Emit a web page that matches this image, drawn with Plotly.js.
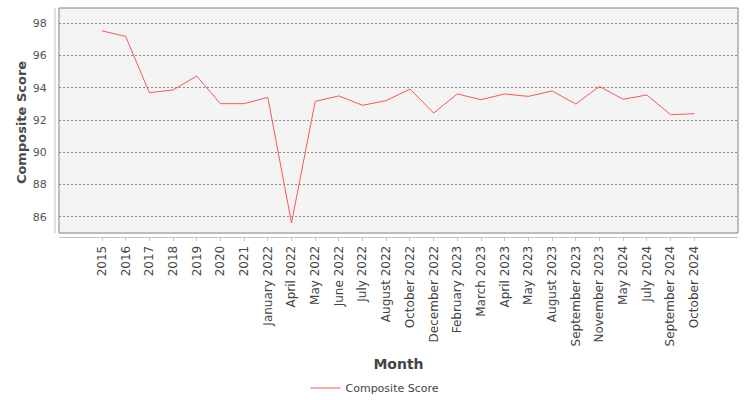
<!DOCTYPE html>
<html>
<head>
<meta charset="utf-8">
<script src="https://cdn.plot.ly/plotly-3.0.1.min.js"></script>
<style>
  html, body { margin: 0; padding: 0; background: #fff; }
  #myDiv { width: 750px; height: 400px; }
</style>
</head>
<body>
<div id="myDiv"></div>
<script>
var months = ['2015', '2016', '2017', '2018', '2019', '2020', '2021',
  'January 2022', 'April 2022', 'May 2022', 'June 2022', 'July 2022', 'August 2022',
  'October 2022', 'December 2022', 'February 2023', 'March 2023', 'April 2023',
  'May 2023', 'August 2023', 'September 2023', 'November 2023', 'May 2024',
  'July 2024', 'September 2024', 'October 2024'];

var scores = [97.52, 97.17, 93.69, 93.86, 94.72, 93.01, 93.01,
  93.40, 85.63, 93.15, 93.49, 92.91, 93.20,
  93.92, 92.43, 93.61, 93.26, 93.61,
  93.46, 93.80, 92.99, 94.08, 93.28,
  93.55, 92.33, 92.39];

var yTicks = [86, 88, 90, 92, 94, 96, 98];

var font = 'DejaVu Sans, sans-serif';

var trace1 = {
  x: months,
  y: scores,
  name: 'Composite Score',
  type: 'scatter',
  mode: 'lines',
  line: {color: '#ff5555', width: 1}
};

// plot area runs down to the x axis line (y=237); the grey box stops 4px above it
var gapY = 4 / 229;
var gapX = 4 / 679;

var layout = {
  width: 750,
  height: 400,
  margin: {l: 59, r: 12, t: 8, b: 163, autoexpand: false},
  paper_bgcolor: '#ffffff',
  plot_bgcolor: 'rgba(0,0,0,0)',
  font: {family: font, color: '#444'},
  showlegend: true,
  legend: {
    orientation: 'h',
    x: 0.5, xref: 'container', xanchor: 'center',
    y: 0.03, yref: 'container', yanchor: 'middle',
    font: {size: 11, color: '#444'}
  },
  xaxis: {
    type: 'category',
    range: [-1.816, 26.85],
    automargin: true,
    showgrid: false,
    zeroline: false,
    showline: true,
    linecolor: '#c4c4c4',
    linewidth: 1,
    ticks: 'outside',
    ticklen: 3,
    tickcolor: '#c4c4c4',
    tickangle: -90,
    tickfont: {size: 12, color: '#444'},
    title: {text: 'Month', standoff: 13, font: {size: 14, color: '#444', weight: 'bold'}}
  },
  yaxis: {
    range: [84.76, 98.93],
    tickvals: yTicks,
    automargin: true,
    showgrid: true,
    gridcolor: '#8a8a8a',
    griddash: '2px,2px',
    gridwidth: 1,
    zeroline: false,
    showline: false,
    ticks: 'outside',
    ticklen: 9,
    tickcolor: 'rgba(0,0,0,0)',
    tickfont: {size: 11, color: '#555'},
    title: {text: 'Composite Score', standoff: 3, font: {size: 13, color: '#4a4a4a', weight: 'bold'}}
  },
  shapes: [
    {type: 'rect', xref: 'paper', yref: 'paper', x0: 0, x1: 1, y0: gapY, y1: 1,
      fillcolor: '#f4f4f4', line: {color: '#808080', width: 1}, layer: 'below'},
    {type: 'line', xref: 'paper', yref: 'paper', x0: -gapX, x1: -gapX, y0: gapY, y1: 1,
      line: {color: '#c4c4c4', width: 1}}
  ]
};

Plotly.newPlot('myDiv', [trace1], layout, {displayModeBar: false, staticPlot: true});
</script>
</body>
</html>
